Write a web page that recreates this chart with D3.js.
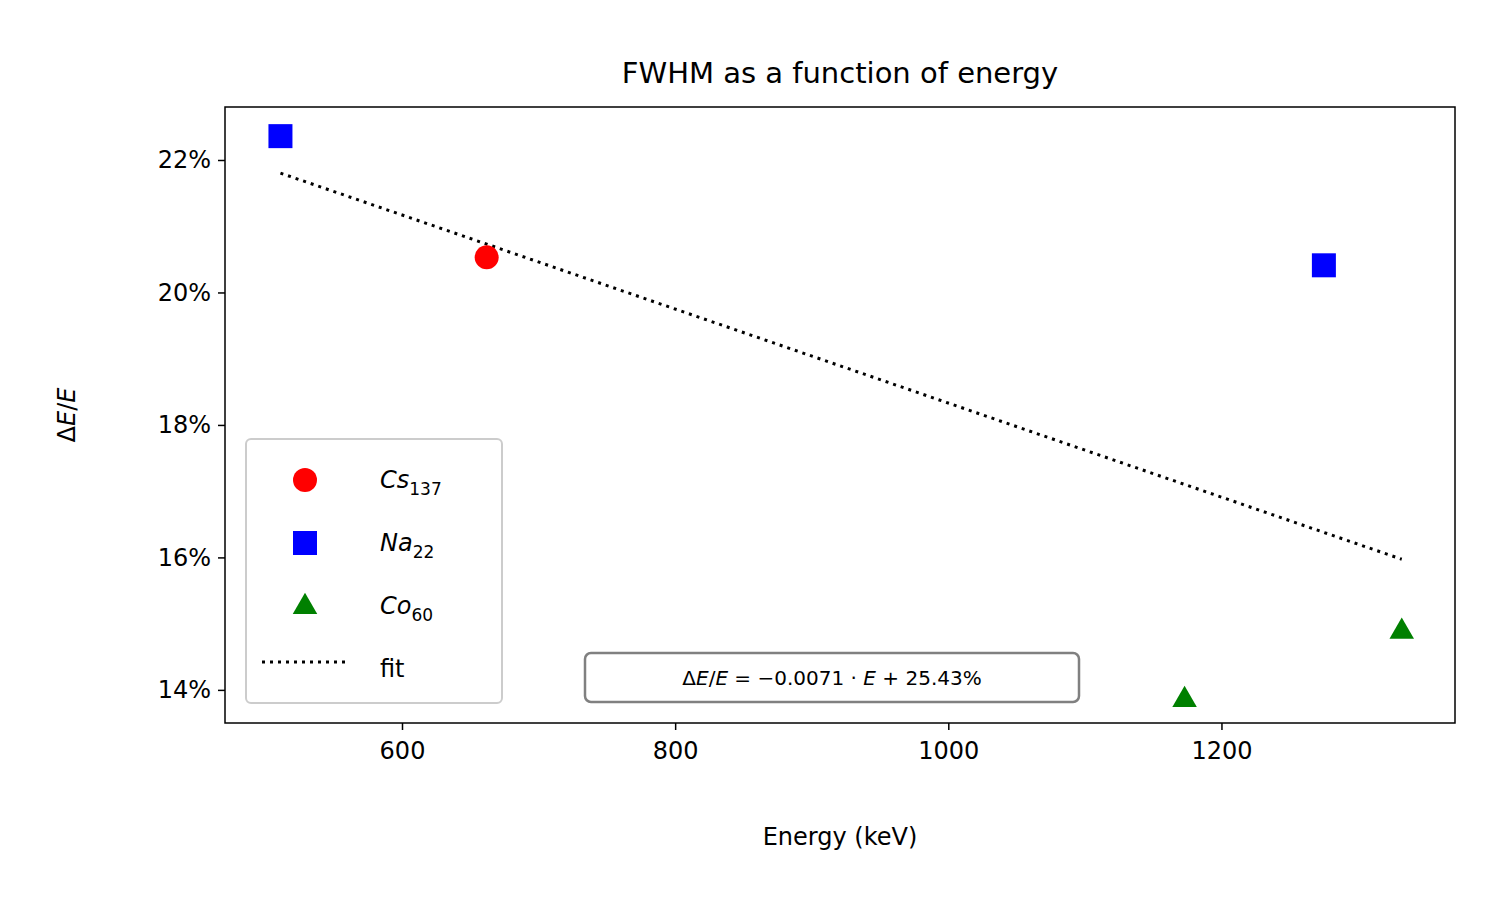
<!DOCTYPE html>
<html><head><meta charset="utf-8">
<script src="https://cdn.jsdelivr.net/npm/d3@7"></script>
<style>body{margin:0;background:#fff}text{font-family:"DejaVu Sans",sans-serif}</style>
</head><body><svg id="c" width="1500" height="900"></svg>
<script>
const csE=[662], csR=[20.53];
const naE=[511,1275], naR=[22.36,20.41];
const coE=[1173,1332], coR=[13.85,14.88];
const fitE=[511,1332];
const slope=-0.0071, intercept=25.43;
const xTicks=[600,800,1000,1200], yTicks=[14,16,18,20,22];

const svg=d3.select("#c");
const L=225,R=1455,T=107,B=723;
const x=d3.scaleLinear().domain([470.4,1371]).range([L,R]);
const y=d3.scaleLinear().domain([13.5,22.8]).range([B,T]);
const fs=(s,v)=>s.style("font-size",v+"px");

fs(svg.append("text").attr("x",840).attr("y",83).attr("text-anchor","middle"),29).text("FWHM as a function of energy");

const xa=svg.append("g").attr("transform",`translate(0,${B})`).call(d3.axisBottom(x).tickValues(xTicks).tickSize(7).tickPadding(7).tickFormat(d3.format("d")));
const ya=svg.append("g").attr("transform",`translate(${L},0)`).call(d3.axisLeft(y).tickValues(yTicks).tickSize(7).tickPadding(7).tickFormat(d=>d+"%"));
[xa,ya].forEach(a=>{a.select(".domain").remove();fs(a.selectAll("text"),24).style("font-family","DejaVu Sans").attr("fill","#000");a.selectAll("line").attr("stroke","#000").attr("stroke-width",1.5);});
xa.selectAll("text").attr("dy","0.9em");
svg.append("rect").attr("x",L).attr("y",T).attr("width",R-L).attr("height",B-T).attr("fill","none").attr("stroke","#000").attr("stroke-width",1.5);

fs(svg.append("text").attr("x",840).attr("y",845).attr("text-anchor","middle"),24).text("Energy (keV)");
fs(svg.append("text").attr("transform","translate(75,415) rotate(-90)").attr("text-anchor","middle"),24).html('Δ<tspan font-style="italic">E</tspan>/<tspan font-style="italic">E</tspan>');

const line=d3.line().x(d=>x(d)).y(d=>y(slope*d+intercept));
svg.append("path").attr("d",line(fitE)).attr("fill","none").attr("stroke","#000").attr("stroke-width",3).attr("stroke-dasharray","3,5");

svg.selectAll(".cs").data(csE).enter().append("circle").attr("cx",d=>x(d)).attr("cy",(d,i)=>y(csR[i])).attr("r",12).attr("fill","red");
svg.selectAll(".na").data(naE).enter().append("rect").attr("x",d=>x(d)-12).attr("y",(d,i)=>y(naR[i])-12).attr("width",24).attr("height",24).attr("fill","blue");
const tri=d3.symbol().type(d3.symbolTriangle).size(260);
svg.selectAll(".co").data(coE).enter().append("path").attr("d",tri).attr("transform",(d,i)=>`translate(${x(d)},${y(coR[i])})`).attr("fill","green");

// legend
const lg=svg.append("g");
lg.append("rect").attr("x",246).attr("y",439).attr("width",256).attr("height",264).attr("rx",5).attr("fill","#fff").attr("stroke","#ccc").attr("stroke-width",2);
lg.append("circle").attr("cx",305).attr("cy",480).attr("r",12).attr("fill","red");
lg.append("rect").attr("x",293).attr("y",531).attr("width",24).attr("height",24).attr("fill","blue");
lg.append("path").attr("d",tri).attr("transform","translate(305,607)").attr("fill","green");
lg.append("line").attr("x1",262).attr("x2",346).attr("y1",662).attr("y2",662).attr("stroke","#000").attr("stroke-width",3).attr("stroke-dasharray","3,5");
const labs=[["Cs","137",480],["Na","22",543],["Co","60",606]];
labs.forEach(([a,b,yy])=>{fs(lg.append("text").attr("x",380).attr("y",yy+8),24).html(`<tspan font-style="italic">${a}</tspan><tspan style="font-size:17px" dy="7">${b}</tspan>`);});
fs(lg.append("text").attr("x",380).attr("y",677),24).text("fit");

// annotation
svg.append("rect").attr("x",585).attr("y",653).attr("width",494).attr("height",49).attr("rx",6).attr("fill","#fff").attr("stroke","#808080").attr("stroke-width",2.5);
fs(svg.append("text").attr("x",832).attr("y",685).attr("text-anchor","middle"),20).html('Δ<tspan font-style="italic">E</tspan>/<tspan font-style="italic">E</tspan> = −0.0071 · <tspan font-style="italic">E</tspan> + 25.43%');
</script></body></html>
